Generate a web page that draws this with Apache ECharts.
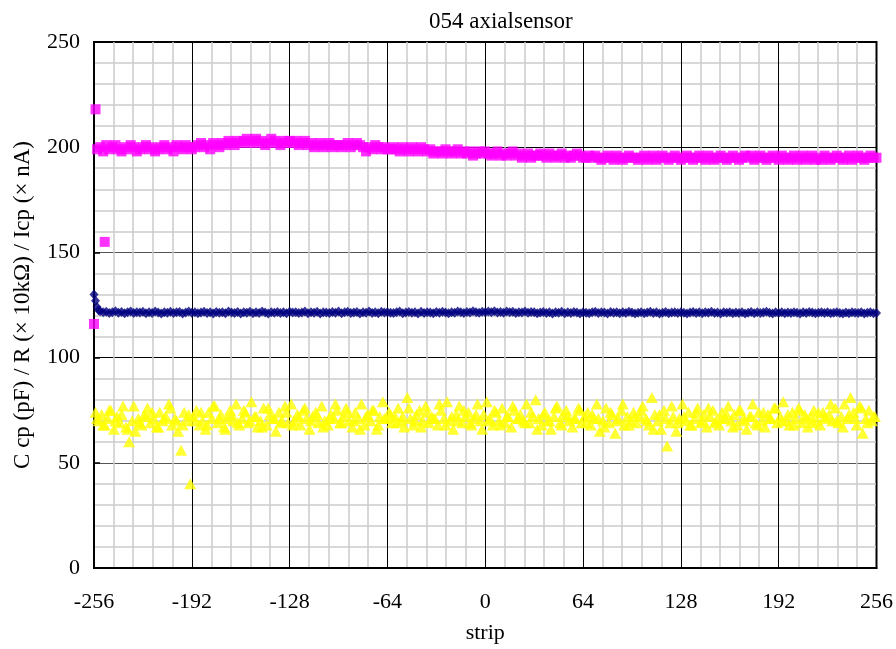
<!DOCTYPE html>
<html>
<head>
<meta charset="utf-8">
<script src="https://cdn.jsdelivr.net/npm/echarts@6/dist/echarts.min.js"></script>
<style>html,body{margin:0;padding:0;background:#fff}#c{width:896px;height:649px}</style>
</head>
<body>
<div id="c"></div>
<script>
const xTicks = [-256, -192, -128, -64, 0, 64, 128, 192, 256];
const yTicks = [0, 50, 100, 150, 200, 250];

// Icp (magenta squares): strips -254..256 step 2
const icpStart = -254, icpStep = 2;
const icpValues = [
  199,200,198,201,199,200,201,199,198,200,199,201,200,198,199,200,
  201,199,200,198,199,200,201,199,200,198,201,200,199,201,200,199,
  200,201,202,200,201,199,202,201,200,202,201,203,202,201,203,202,
  203,204,202,203,204,202,203,201,202,204,203,202,201,203,202,203,
  202,203,201,202,203,201,202,200,201,202,200,201,202,200,201,201,
  200,201,202,200,201,202,201,200,198,200,199,201,200,199,200,199,
  199,200,199,198,200,199,198,200,199,198,200,199,198,199,197,198,
  198,197,199,198,197,198,199,197,198,197,198,196,197,198,197,198,
  197,196,197,198,196,197,196,197,198,196,197,195,196,197,195,196,
  196,197,196,195,197,196,195,196,197,195,196,195,196,197,196,195,
  195,196,195,196,195,194,195,196,195,194,196,195,194,195,196,195,
  195,194,195,196,194,195,196,194,195,196,195,194,195,196,195,194,
  195,196,195,194,195,196,195,194,196,195,194,195,196,195,194,195,
  196,195,194,195,196,195,196,194,195,196,195,194,195,196,195,194,
  196,195,194,195,196,194,195,196,194,195,196,194,195,194,196,195,
  194,195,196,195,194,195,196,194,195,196,195,194,195,196,195,195
];
const icpExtra = [[-256,116],[-255,218],[-249,155]];

// R (navy diamonds): strips -252..256 step 2
const rStart = -252, rStep = 2;
const rValues = [
  122,121.5,121.8,121.2,121.6,122,121.3,121.7,121.1,121.5,121.9,121.2,121.6,121.4,121.8,121.1,
  121.5,121.2,121.9,121.4,121,121.6,121.3,121.8,121.2,121.5,121.7,121,121.4,121.9,121.3,121.6,
  121.1,121.4,121.8,121.2,121.5,121,121.7,121.3,121.6,121.1,121.9,121.4,121.2,121.7,121,121.5,
  121.3,121.8,121.1,121.5,121.2,121.9,121.4,121,121.6,121.3,121.7,121.2,121.5,121.1,121.8,121.4,
  121.6,121.2,121.4,121.9,121.1,121.5,121.3,121.8,121,121.6,121.4,121.2,121.7,121.3,121.9,121.1,
  121.5,121.8,121.2,121.4,121.7,121,121.6,121.3,121.9,121.2,121.5,121.1,121.8,121.4,121.6,121.3,
  121.2,121.6,121.9,121.1,121.4,121.7,121.3,121.5,121,121.8,121.2,121.6,121.4,121.1,121.7,121.3,
  121.8,121.4,121.1,121.6,121.3,121.9,121.5,121.2,121.7,121.4,122,121.6,121.3,121.8,121.5,121.9,
  121.6,122,121.4,121.7,121.3,121.9,121.5,121.8,121.2,121.6,121.4,121.9,121.3,121.7,121.5,121.1,
  121.4,121.7,121.2,121.5,121,121.6,121.3,121.8,121.1,121.5,121.2,121.7,121.4,121,121.6,121.3,
  121.1,121.5,121.8,121.2,121.6,121.4,121,121.7,121.3,121.5,121.1,121.6,121.2,121.8,121.4,121,
  121.3,121.6,121.1,121.4,121.8,121.2,121.5,121,121.3,121.7,121.1,121.4,121.6,121.2,121.5,121.3,
  121,121.4,121.7,121.2,121.5,121.1,121.6,121.3,121.8,121.2,121.4,121,121.6,121.3,121.5,121.1,
  121.4,121.2,121.6,121,121.3,121.7,121.1,121.5,121.2,121.4,121.8,121.3,121,121.5,121.2,121.6,
  121.1,121.4,121.2,121.6,121.3,121,121.5,121.2,121.7,121.4,121.1,121.3,121.6,121.2,121.5,121.1,
  121.3,121.6,121.2,121,121.4,121.1,121.5,121.3,121.2,121.6,121,121.3,121.5,121.1,121.2
];
const rExtra = [[-256,130],[-255,127],[-254,124],[-253,122.5]];

// Ccp (yellow triangles): strips -255..255 step 2
const ccpStart = -255, ccpStep = 2;
const ccpValues = [
  74,70,73,68,71,75,66,72,69,77,67,60,70,65,71,68,
  73,76,69,71,67,74,70,72,78,68,71,65,56,74,70,40,
  72,75,68,70,66,74,71,77,69,73,67,71,75,70,78,68,
  71,74,69,79,72,67,70,76,68,73,71,65,74,70,77,69,
  78,70,73,68,75,71,66,72,74,69,77,70,68,73,71,75,
  69,72,76,70,67,74,71,78,68,73,70,75,66,72,79,71,
  74,69,72,76,70,67,81,71,68,73,75,70,77,69,72,71,
  68,75,71,79,70,66,73,77,69,72,74,68,71,78,70,73,
  79,71,68,74,70,76,69,72,67,75,71,73,70,78,69,72,
  80,71,68,74,70,66,72,77,69,73,75,70,67,71,76,69,
  72,74,68,71,78,65,70,76,69,73,64,71,75,68,72,70,
  74,69,72,77,71,68,81,73,70,66,75,58,69,72,65,71,
  78,70,74,68,71,76,69,73,67,72,75,70,68,74,71,77,
  70,73,68,75,71,66,72,78,69,74,70,67,73,71,76,69,
  72,79,70,68,74,71,76,69,73,67,72,75,70,68,74,71,
  73,70,76,69,72,78,71,81,74,68,77,64,71,75,70,72
];
// Ccp second set: strips -254..254 step 4
const ccp2Start = -254, ccp2Step = 4;
const ccp2Values = [
  71,68,75,70,73,66,77,69,72,74,67,71,76,70,68,73,
  70,74,68,77,71,66,73,69,75,70,72,67,76,71,69,74,
  68,72,76,70,73,67,71,78,69,74,70,66,72,75,68,71,
  73,69,72,76,70,67,74,71,78,68,72,70,75,69,73,66,
  70,75,68,72,77,71,69,74,66,73,70,76,68,72,71,75,
  69,73,71,67,74,70,78,68,72,75,70,66,73,71,77,69,
  72,68,74,70,76,69,71,73,67,75,70,72,68,74,71,76,
  70,73,68,75,71,69,74,72,78,70,67,73,71,76,69,72
];

function toPairs(start, step, vals){ return vals.map((v,i)=>[start+i*step, v]); }

const FONT = 'Liberation Serif';
const chart = echarts.init(document.getElementById('c'), null, {renderer:'canvas'});
chart.setOption({
  animation: false,
  backgroundColor: '#fff',
  title: {
    text: '054 axialsensor',
    left: 424, top: 5,
    textStyle: {fontFamily: FONT, fontSize: 23, fontWeight: 'normal', color: '#000'}
  },
  grid: {left: 94, right: 19, top: 42, bottom: 79, show: true, borderColor: '#000', borderWidth: 2, backgroundColor: 'transparent'},
  xAxis: {
    type: 'value', min: xTicks[0], max: xTicks[xTicks.length-1], interval: 64,
    name: 'strip', nameLocation: 'middle', nameGap: 54,
    nameTextStyle: {fontFamily: FONT, fontSize: 22, color: '#000'},
    axisLine: {show: true, onZero: false, lineStyle: {color: '#000', width: 2}},
    axisTick: {show: false},
    axisLabel: {fontFamily: FONT, fontSize: 22, color: '#000', margin: 23},
    splitLine: {show: true, lineStyle: {color: '#000', width: 1}},
    minorTick: {show: false, splitNumber: 5},
    minorSplitLine: {show: true, lineStyle: {color: '#cccccc', width: 1.5}}
  },
  yAxis: {
    type: 'value', min: yTicks[0], max: yTicks[yTicks.length-1], interval: 50,
    name: 'C cp (pF) / R (× 10kΩ) / Icp (× nA)', nameLocation: 'middle', nameGap: 60, nameRotate: 90,
    nameTextStyle: {fontFamily: FONT, fontSize: 23, color: '#000'},
    axisLine: {show: true, onZero: false, lineStyle: {color: '#000', width: 2}},
    axisTick: {show: true, inside: true, length: 6, lineStyle: {color: '#000', width: 1.5}},
    axisLabel: {fontFamily: FONT, fontSize: 22, color: '#000', margin: 14},
    splitLine: {show: true, lineStyle: {color: ['#000','#555','#000','#555','#000','#000'], width: 1}},
    minorTick: {show: false, splitNumber: 5},
    minorSplitLine: {show: true, lineStyle: {color: '#cccccc', width: 1.5}}
  },
  series: [
    {name: 'Ccp', type: 'scatter', symbol: 'triangle', symbolSize: [12, 11],
     itemStyle: {color: '#ffff00'}, data: toPairs(ccpStart, ccpStep, ccpValues).concat(toPairs(ccp2Start, ccp2Step, ccp2Values))},
    {name: 'R', type: 'scatter', symbol: 'diamond', symbolSize: [9, 10],
     itemStyle: {color: '#000080'}, data: toPairs(rStart, rStep, rValues).concat(rExtra)},
    {name: 'Icp', type: 'scatter', symbol: 'rect', symbolSize: 10,
     itemStyle: {color: '#ff00ff'}, data: toPairs(icpStart, icpStep, icpValues).concat(icpExtra)}
  ]
});
</script>
</body>
</html>
